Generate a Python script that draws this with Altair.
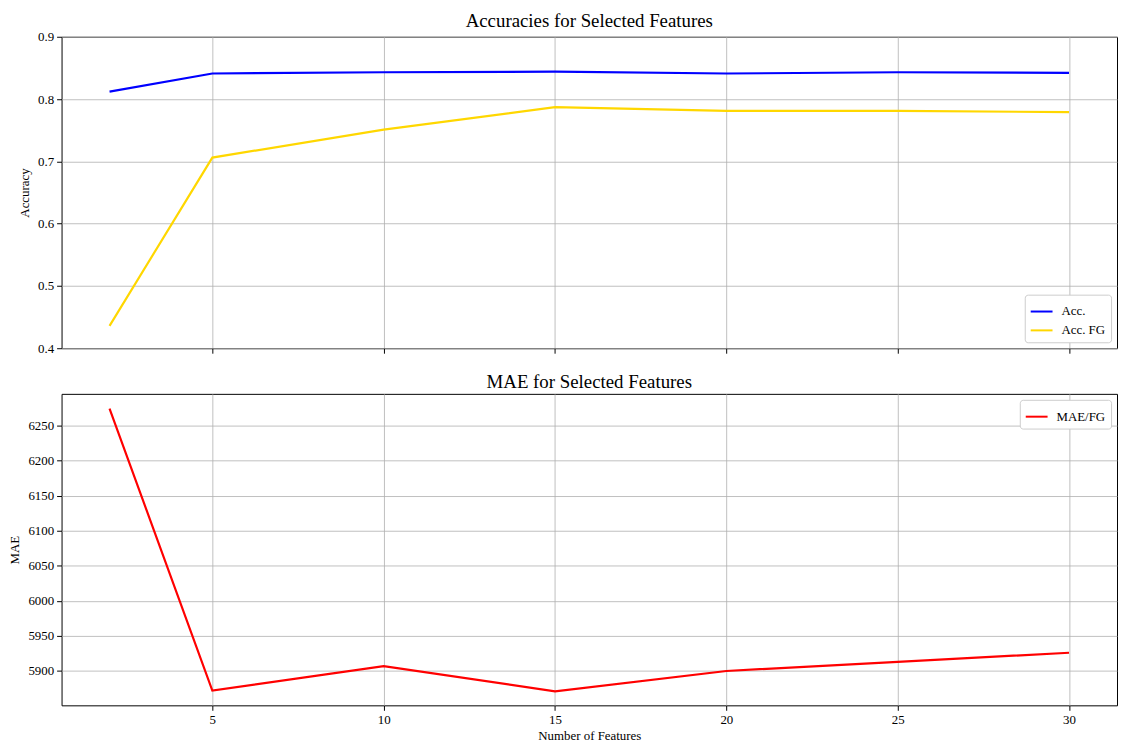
import altair as alt
import pandas as pd

features = [2, 5, 10, 15, 20, 25, 30]
acc = [0.812, 0.841, 0.843, 0.844, 0.841, 0.843, 0.842]
acc_fg = [0.436, 0.706, 0.751, 0.787, 0.781, 0.781, 0.779]
mae_fg = [6274, 5872, 5907, 5871, 5900, 5913, 5926]

x_ticks = [5, 10, 15, 20, 25, 30]
acc_ticks = [0.4, 0.5, 0.6, 0.7, 0.8, 0.9]
mae_ticks = [5900, 5950, 6000, 6050, 6100, 6150, 6200, 6250]

top_df = pd.DataFrame(
    {"n": features * 2,
     "value": acc + acc_fg,
     "series": ["Acc."] * len(features) + ["Acc. FG"] * len(features)}
)
bot_df = pd.DataFrame({"n": features, "value": mae_fg, "series": ["MAE/FG"] * len(features)})

FONT = "Liberation Serif"
W, H = 1064, 314
xdom = [0.6, 31.4]

legend_common = dict(
    title=None, symbolType="stroke", symbolSize=484, symbolStrokeWidth=2,
    labelFont=FONT, labelFontSize=13, labelColor="black", labelOffset=8,
    fillColor="white", strokeColor="#cccccc", padding=5, cornerRadius=3,
    rowPadding=0, offset=6,
)

top = alt.Chart(top_df, title=alt.Title(
    "Accuracies for Selected Features", font=FONT, fontSize=19, fontWeight="normal", offset=0
)).mark_line(strokeWidth=2.2, clip=True).encode(
    x=alt.X("n:Q", scale=alt.Scale(domain=xdom, nice=False, zero=False),
            axis=alt.Axis(values=x_ticks, labels=False, title=None)),
    y=alt.Y("value:Q", scale=alt.Scale(domain=[0.4, 0.9], nice=False, zero=False),
            axis=alt.Axis(values=acc_ticks, format=".1f", title="Accuracy")),
    color=alt.Color("series:N",
                    scale=alt.Scale(domain=["Acc.", "Acc. FG"], range=["#0000ff", "#ffd700"]),
                    legend=alt.Legend(orient="bottom-right", **legend_common)),
).properties(width=W, height=H)

bottom = alt.Chart(bot_df, title=alt.Title(
    "MAE for Selected Features", font=FONT, fontSize=19, fontWeight="normal", offset=2
)).mark_line(strokeWidth=2.2, clip=True).encode(
    x=alt.X("n:Q", scale=alt.Scale(domain=xdom, nice=False, zero=False),
            axis=alt.Axis(values=x_ticks, format="d", title="Number of Features")),
    y=alt.Y("value:Q", scale=alt.Scale(domain=[5851, 6295], nice=False, zero=False),
            axis=alt.Axis(values=mae_ticks, format="d", title="MAE")),
    color=alt.Color("series:N",
                    scale=alt.Scale(domain=["MAE/FG"], range=["#ff0000"]),
                    legend=alt.Legend(orient="top-right", **legend_common)),
).properties(width=W, height=H)

chart = alt.vconcat(top, bottom, spacing=16).resolve_scale(color="independent").properties(
    padding={"left": 0, "top": 0, "right": 0, "bottom": 0}
).configure_view(
    stroke="black", strokeWidth=1
).configure_axis(
    labelFont=FONT, labelFontSize=13, labelColor="black",
    titleFont=FONT, titleFontSize=13, titleFontWeight="normal", titleColor="black",
    grid=True, gridColor="#b0b0b0", gridWidth=0.8,
    domain=False, tickColor="black", tickSize=5, tickWidth=1, labelPadding=3,
    titlePadding=6,
).configure_axisX(
    titlePadding=3,
)

chart.save("out.html", embed_options={"renderer": "svg", "actions": False})
